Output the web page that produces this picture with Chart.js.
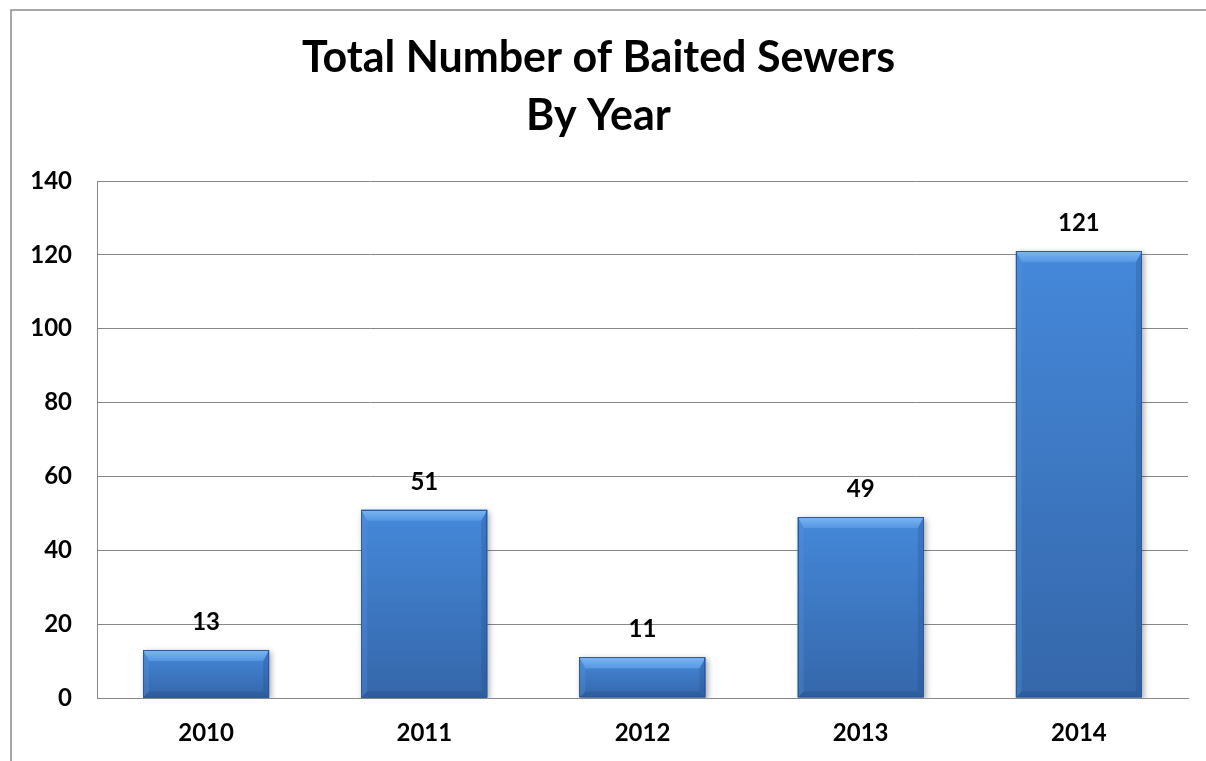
<!DOCTYPE html>
<html>
<head>
<meta charset="utf-8">
<script src="https://cdn.jsdelivr.net/npm/chart.js@4.4.1/dist/chart.umd.min.js"></script>
<style>
  html, body { margin: 0; padding: 0; background: #fff; }
  #wrap { width: 1206px; height: 761px; position: relative; }
</style>
</head>
<body>
<div id="wrap"><canvas id="c"></canvas></div>
<script>
const categories = ['2010', '2011', '2012', '2013', '2014'];
const values = [13, 51, 11, 49, 121];
const titleLines = ['Total Number of Baited Sewers', 'By Year'];
const yMin = 0, yMax = 140, yStep = 20;

const FONT = 'Lato, "Open Sans", sans-serif';
const GRID = '#878787';

const framePlugin = {
  id: 'frame',
  beforeDraw(chart) {
    const ctx = chart.ctx;
    ctx.save();
    ctx.strokeStyle = '#8a8a8a';
    ctx.lineWidth = 1.5;
    ctx.strokeRect(11, 10, 1400, 1000);
    ctx.restore();
  }
};

const barStyle = {
  id: 'barStyle',
  beforeDatasetsDraw(chart) {
    const ctx = chart.ctx;
    ctx.save();
    ctx.shadowColor = 'rgba(0,0,0,0.35)';
    ctx.shadowBlur = 6;
    ctx.shadowOffsetX = 2;
    ctx.shadowOffsetY = 2;
  },
  afterDatasetsDraw(chart) {
    const ctx = chart.ctx;
    ctx.restore();
    const meta = chart.getDatasetMeta(0);
    const ds = chart.data.datasets[0].data;
    meta.data.forEach((el, i) => {
      const p = el.getProps(['x', 'y', 'base', 'width'], true);
      const l = p.x - p.width / 2, r = p.x + p.width / 2, t = p.y, b = p.base;
      const h = b - t;
      ctx.save();
      const g = ctx.createLinearGradient(0, t, 0, b);
      g.addColorStop(0, '#4588da');
      g.addColorStop(1, '#3567aa');
      ctx.fillStyle = g;
      ctx.fillRect(l, t, r - l, h);
      const bev = Math.min(11, h / 2);
      const sb = Math.min(6, p.width / 4);
      const tg = ctx.createLinearGradient(0, t, 0, t + bev);
      tg.addColorStop(0, '#7db6f2');
      tg.addColorStop(1, '#5597e3');
      ctx.fillStyle = tg;
      ctx.beginPath();
      ctx.moveTo(l, t); ctx.lineTo(r, t); ctx.lineTo(r - sb, t + bev); ctx.lineTo(l + sb, t + bev); ctx.closePath();
      ctx.fill();
      ctx.fillStyle = 'rgba(90,150,220,0.3)';
      ctx.beginPath();
      ctx.moveTo(l, t); ctx.lineTo(l + sb, t + bev); ctx.lineTo(l + sb, b - sb); ctx.lineTo(l, b); ctx.closePath();
      ctx.fill();
      ctx.fillStyle = 'rgba(30,70,130,0.25)';
      ctx.beginPath();
      ctx.moveTo(r, t); ctx.lineTo(r - sb, t + bev); ctx.lineTo(r - sb, b - sb); ctx.lineTo(r, b); ctx.closePath();
      ctx.fill();
      ctx.fillStyle = 'rgba(20,50,100,0.2)';
      ctx.beginPath();
      ctx.moveTo(l, b); ctx.lineTo(l + sb, b - sb); ctx.lineTo(r - sb, b - sb); ctx.lineTo(r, b); ctx.closePath();
      ctx.fill();
      ctx.strokeStyle = '#2d5a96';
      ctx.lineWidth = 1;
      ctx.strokeRect(Math.round(l) + 0.5, Math.round(t) + 0.5, Math.round(r - l) - 1, Math.round(h) - 1);
      ctx.restore();
      ctx.save();
      ctx.font = 'bold 24px ' + FONT;
      ctx.fillStyle = '#000';
      ctx.textAlign = 'center';
      ctx.textBaseline = 'alphabetic';
      ctx.fillText(String(ds[i]), p.x, t - 20);
      ctx.restore();
    });
  }
};

new Chart(document.getElementById('c'), {
  type: 'bar',
  data: {
    labels: categories,
    datasets: [{
      data: values,
      backgroundColor: '#3d7bcb',
      borderWidth: 0,
      categoryPercentage: 1,
      barPercentage: 0.578
    }]
  },
  options: {
    responsive: true,
    maintainAspectRatio: false,
    animation: false,
    layout: { padding: { left: 9, right: 18, top: 0, bottom: 0 } },
    plugins: {
      legend: { display: false },
      tooltip: { enabled: false },
      title: {
        display: true,
        text: titleLines,
        color: '#000',
        font: { family: FONT, weight: 'bold', size: 43, lineHeight: '58px' },
        padding: { top: 29, bottom: 36 }
      }
    },
    scales: {
      x: {
        grid: { display: false, drawTicks: false },
        border: { display: true, color: GRID, width: 1 },
        ticks: { color: '#000', font: { family: FONT, weight: 'bold', size: 24 }, padding: 21 },
        afterFit(s) { s.height = 63; }
      },
      y: {
        min: yMin, max: yMax,
        grid: { color: GRID, lineWidth: 1, drawTicks: false },
        border: { display: true, color: GRID, width: 1 },
        ticks: { stepSize: yStep, color: '#000', font: { family: FONT, weight: 'bold', size: 24 }, padding: 25 },
        afterFit(s) { s.width = 88; }
      }
    }
  },
  plugins: [framePlugin, barStyle]
});
</script>
</body>
</html>
